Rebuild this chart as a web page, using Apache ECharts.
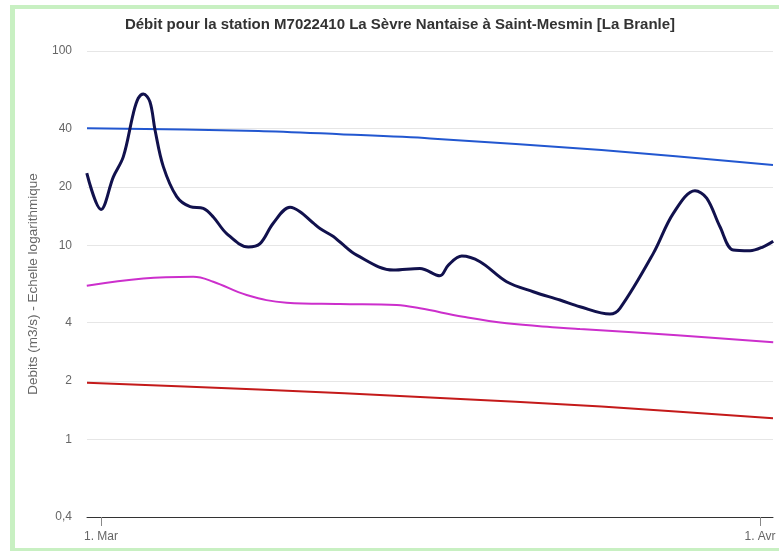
<!DOCTYPE html>
<html><head><meta charset="utf-8">
<script src="https://cdn.jsdelivr.net/npm/echarts@6/dist/echarts.min.js"></script>
<style>
html,body{margin:0;padding:0;background:#fff;}
#c{position:absolute;left:0;top:0;width:779px;height:551px;}
#frame{position:absolute;left:10px;top:5px;width:769px;height:546px;border-left:5px solid #c8f0c2;border-top:4px solid #c8f0c2;border-bottom:3px solid #c8f0c2;box-sizing:border-box;pointer-events:none;}
</style></head><body>
<div id="c"></div><div id="frame"></div>
<script>
// x values: days since 1 March
const flowDays = [-0.67, 0.0, 0.58, 1.05, 1.52, 1.75, 1.99, 2.30, 2.54, 2.93, 3.56, 4.19, 4.81, 5.28, 5.91, 6.93, 7.48, 8.10, 8.89, 9.36, 9.99, 10.30, 10.93, 11.24, 12.03, 13.75, 15.00, 15.94, 16.34, 16.97, 17.83, 19.08, 20.33, 21.59, 22.53, 23.94, 24.41, 25.98, 26.92, 27.94, 28.49, 29.11, 29.74, 30.53, 31.15, 31.62];
const flowValues = [23.5, 15.3, 22.5, 28.6, 47.8, 57.1, 60.1, 54.8, 39.2, 25.4, 17.8, 15.8, 15.5, 14.0, 11.5, 9.8, 10.2, 13.0, 15.7, 14.9, 13.0, 12.2, 11.1, 10.4, 8.9, 7.46, 7.61, 6.97, 7.92, 8.81, 8.23, 6.50, 5.77, 5.23, 4.83, 4.43, 4.74, 9.09, 14.6, 19.1, 17.5, 12.5, 9.46, 9.38, 9.83, 10.5];

const blueDays = [-0.66, 7.41, 11.24, 15.48, 23.54, 31.61];
const blueValues = [40.0, 38.8, 37.3, 35.5, 30.9, 25.9];

const magentaDays = [-0.67, 1.99, 4.34, 5.28, 6.85, 8.73, 11.24, 13.91, 15.00, 17.04, 19.08, 21.59, 22.53, 27.1, 31.62];
const magentaValues = [6.20, 6.76, 6.89, 6.50, 5.55, 5.07, 4.99, 4.93, 4.74, 4.29, 3.97, 3.77, 3.71, 3.45, 3.17];

const redDays = [-0.66, 7.41, 15.48, 23.54, 31.61];
const redValues = [1.96, 1.81, 1.65, 1.48, 1.29];

const yTickValues = [0.4, 1, 2, 4, 10, 20, 40, 100];
const xTickDays = [0, 31];
const xTickLabels = ['1. Mar', '1. Avr'];

const FONT = "'Liberation Sans', Arial, sans-serif";
function pts(days, vals) { return days.map((d, i) => [d, Math.log10(vals[i])]); }
const yTicksLog = yTickValues.map(v => Math.log10(v));

const chart = echarts.init(document.getElementById('c'), null, {renderer: 'canvas'});
chart.setOption({
  animation: false,
  backgroundColor: '#fff',
  title: {
    text: 'Débit pour la station M7022410 La Sèvre Nantaise à Saint-Mesmin [La Branle]',
    left: 400, top: 17, textAlign: 'center', padding: 0,
    textStyle: {fontFamily: FONT, fontSize: 15, fontWeight: 'bold', color: '#333'}
  },
  grid: {left: 87, right: 6, top: 51, bottom: 34},
  xAxis: {
    type: 'value', min: -0.66, max: 31.61,
    splitLine: {show: false},
    axisLine: {show: true, onZero: false, lineStyle: {color: '#333', width: 1}},
    axisTick: {show: true, length: 9, customValues: xTickDays, lineStyle: {color: '#888'}},
    axisLabel: {customValues: xTickDays, margin: 14, color: '#666', fontSize: 12, fontFamily: FONT,
      formatter: v => xTickLabels[xTickDays.indexOf(Math.round(v))] || ''}
  },
  yAxis: {
    type: 'value', min: Math.log10(0.4), max: 2,
    name: 'Debits (m3/s) - Echelle logarithmique',
    nameLocation: 'middle', nameRotate: 90, nameGap: 47,
    nameTextStyle: {color: '#666', fontSize: 13.5, fontFamily: FONT},
    axisLine: {show: false},
    axisTick: {show: false, customValues: yTicksLog},
    splitLine: {show: true, lineStyle: {color: '#e6e6e6', width: 1}},
    axisLabel: {customValues: yTicksLog, margin: 15, color: '#666', fontSize: 12, fontFamily: FONT,
      formatter: v => String(Math.round(Math.pow(10, v) * 10) / 10).replace('.', ',')}
  },
  series: [
    {type: 'line', data: pts(redDays, redValues), showSymbol: false, symbol: 'none', smooth: 0.3,
      lineStyle: {color: '#c41a1a', width: 2}, z: 2},
    {type: 'line', data: pts(magentaDays, magentaValues), showSymbol: false, symbol: 'none', smooth: 0.4,
      lineStyle: {color: '#cc2fcc', width: 2}, z: 2},
    {type: 'line', data: pts(blueDays, blueValues), showSymbol: false, symbol: 'none', smooth: 0.3,
      lineStyle: {color: '#2257d0', width: 2}, z: 2},
    {type: 'line', data: pts(flowDays, flowValues), showSymbol: false, symbol: 'none', smooth: 0.35,
      lineStyle: {color: '#11114d', width: 3}, z: 3}
  ]
});
</script>
</body></html>
